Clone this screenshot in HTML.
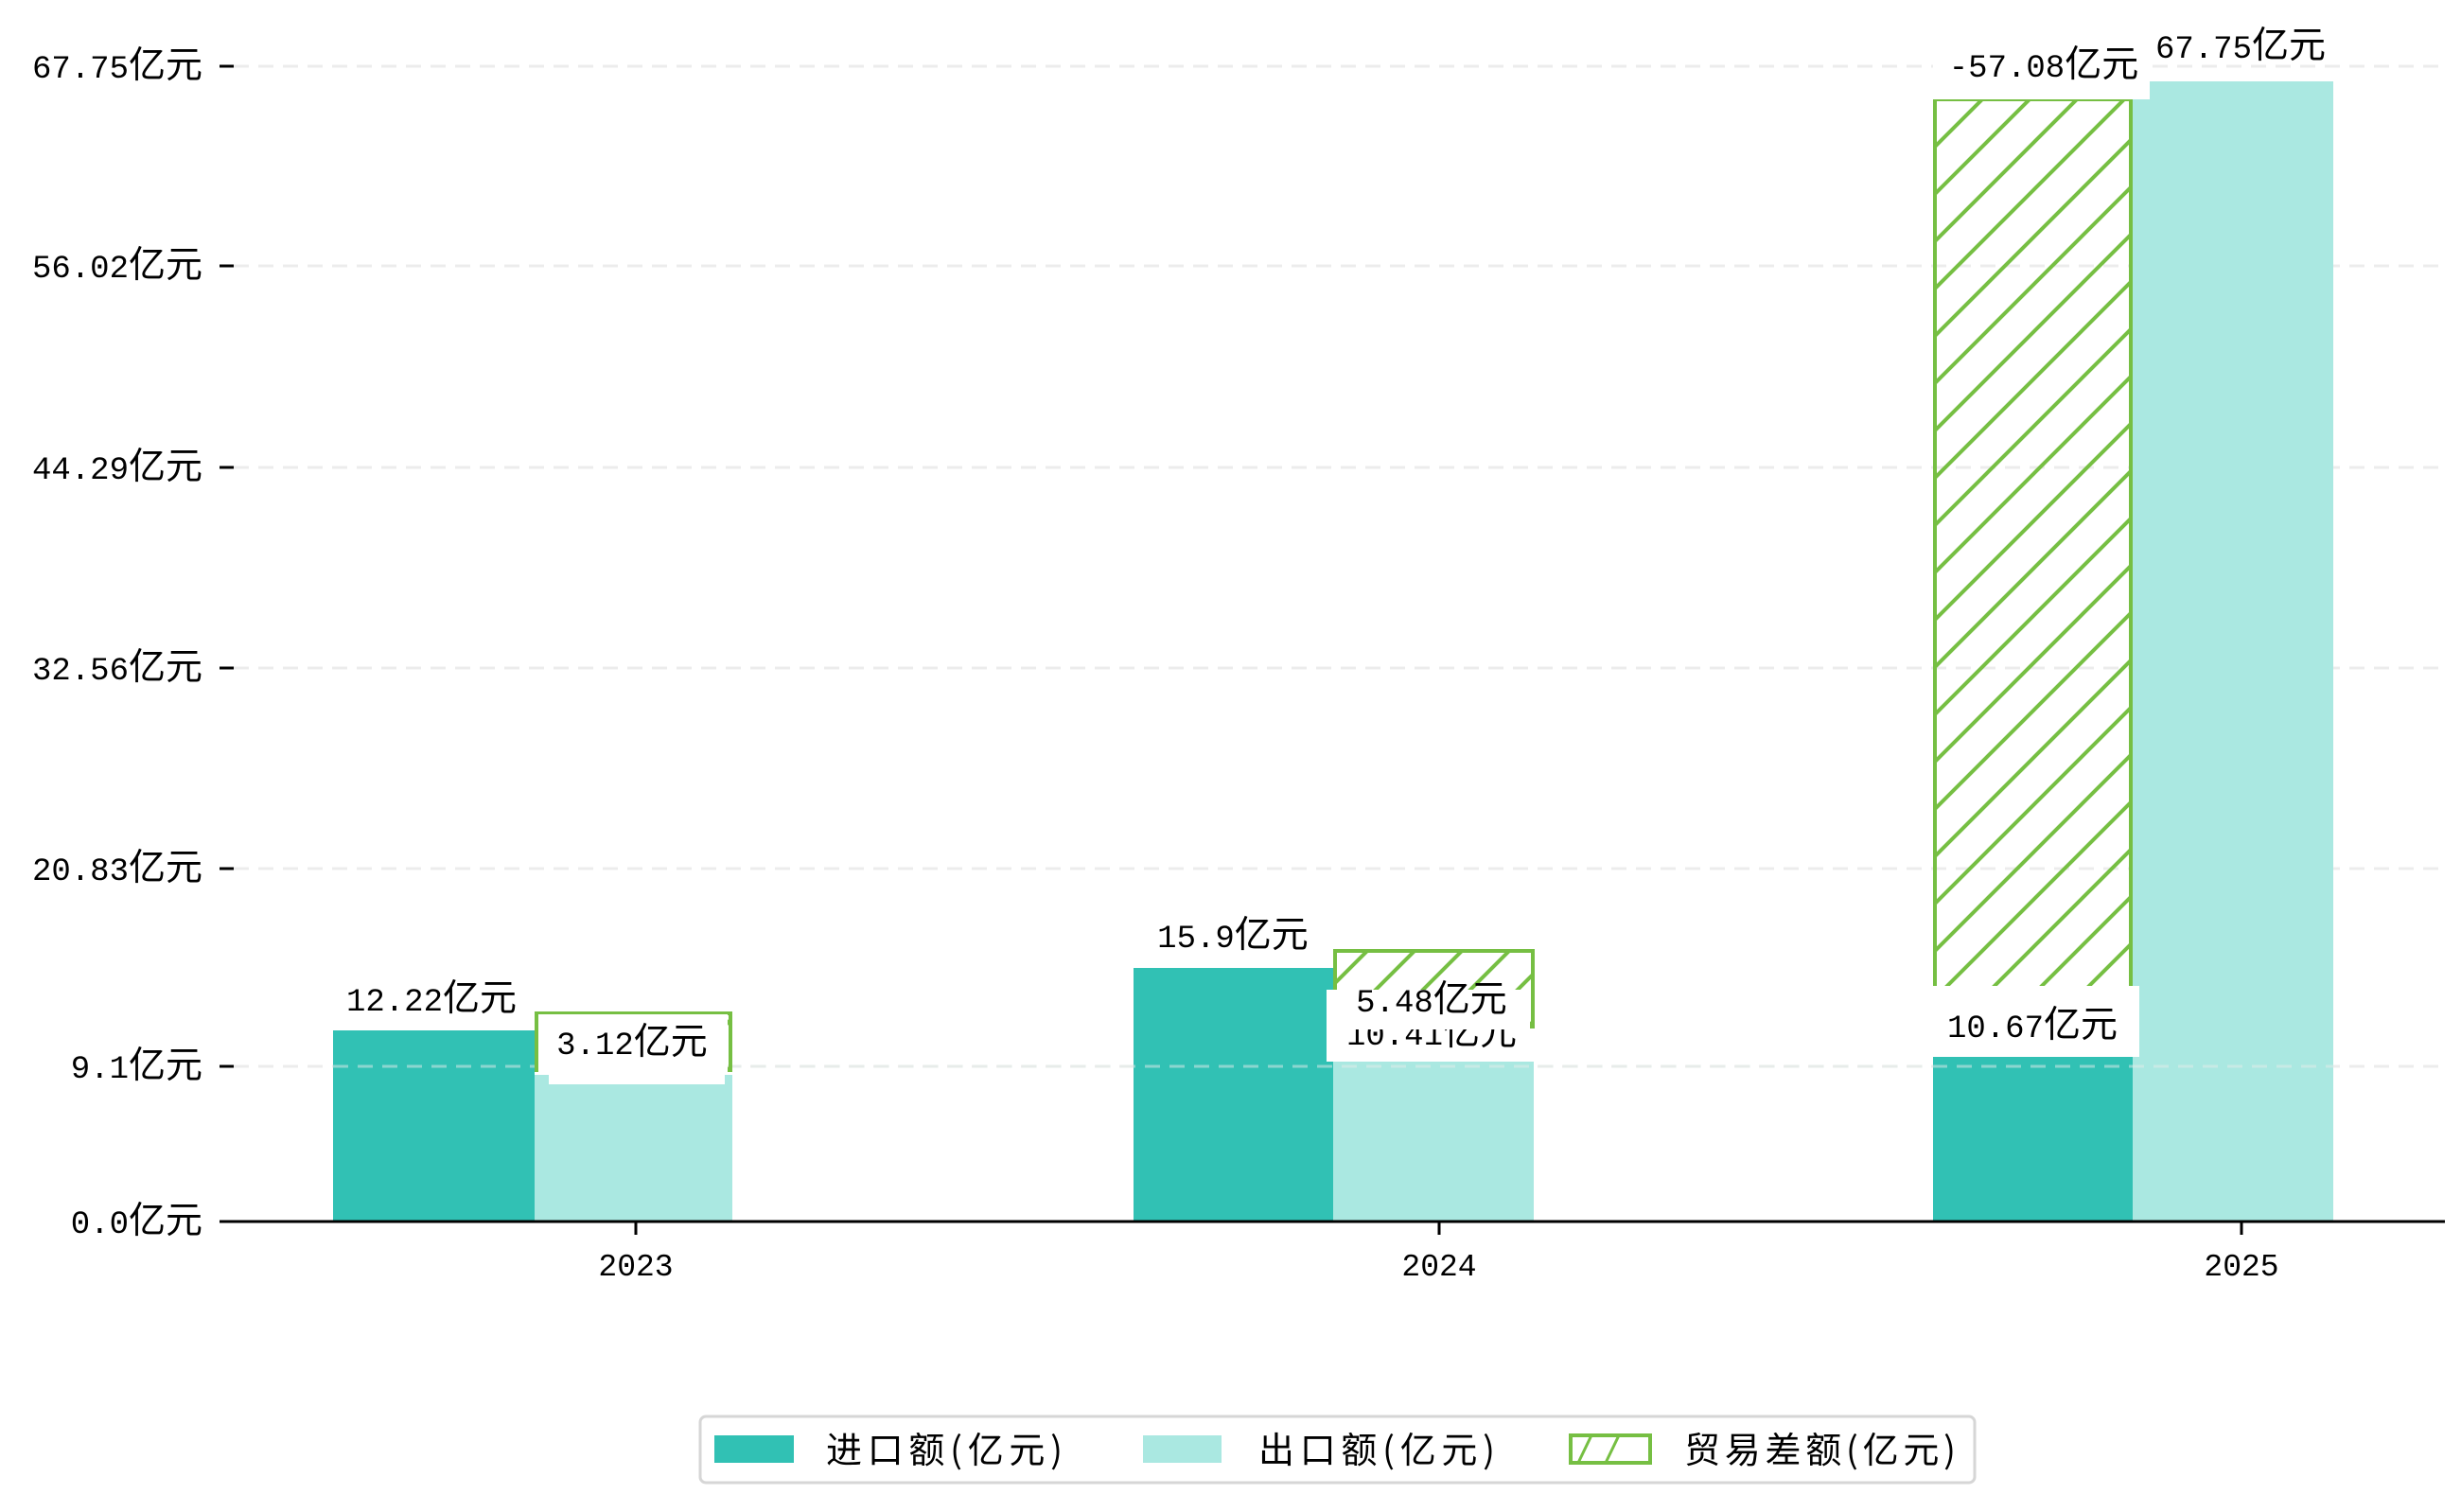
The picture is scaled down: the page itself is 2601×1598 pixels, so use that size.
<!DOCTYPE html>
<html><head><meta charset="utf-8"><style>
html,body{margin:0;padding:0;background:#fff}
svg{display:block}
text{font-family:"Liberation Mono","Noto Sans CJK SC",monospace;fill:#000}
.c{font-family:"Noto Sans CJK SC","WenQuanYi Zen Hei",sans-serif;font-size:39px}
.lg{font-family:"Noto Sans CJK SC","WenQuanYi Zen Hei",sans-serif}
</style></head><body>
<svg width="2601" height="1598" viewBox="0 0 2601 1598" xmlns="http://www.w3.org/2000/svg">
<defs>
<pattern id="h" patternUnits="userSpaceOnUse" width="50" height="50">
<path d="M-10,60 L60,-10 M-60,60 L10,-10 M40,60 L110,-10" stroke="#76bf43" stroke-width="4"/>
</pattern>
</defs>
<rect width="2601" height="1598" fill="#fff"/>
<!-- grid -->
<g stroke="#ececec" stroke-width="3" stroke-dasharray="16,10">
<line x1="247" y1="70" x2="2584" y2="70"/>
<line x1="247" y1="281" x2="2584" y2="281"/>
<line x1="247" y1="494" x2="2584" y2="494"/>
<line x1="247" y1="706" x2="2584" y2="706"/>
<line x1="247" y1="918" x2="2584" y2="918"/>
<line x1="247" y1="1127" x2="2584" y2="1127"/>
</g>
<!-- bars -->
<rect x="352" y="1089" width="213" height="202" fill="#31c1b4"/>
<rect x="565" y="1136" width="209" height="155" fill="#aae8e1"/>
<rect x="1198" y="1023" width="211" height="268" fill="#31c1b4"/>
<rect x="1409" y="1122" width="212" height="169" fill="#aae8e1"/>
<rect x="2043" y="1117" width="211" height="174" fill="#31c1b4"/>
<rect x="2254" y="86" width="212" height="1205" fill="#aae8e1"/>
<g stroke="#e4ecea" stroke-width="3" stroke-dasharray="16,10" opacity="0.5">
<line x1="352" y1="1127" x2="2466" y2="1127"/>
</g>
<!-- hatched -->
<rect x="567" y="1071" width="205" height="60" fill="url(#h)" stroke="#76bf43" stroke-width="4"/>
<rect x="1411" y="1005" width="209" height="80" fill="url(#h)" stroke="#76bf43" stroke-width="4"/>
<rect x="2045" y="105" width="207" height="945" fill="url(#h)" stroke="#76bf43" stroke-width="4"/>
<!-- label boxes -->
<rect x="569" y="1072" width="200" height="64" fill="#fff"/>
<rect x="580" y="1130" width="186" height="16" fill="#fff"/>
<rect x="1202" y="975" width="206" height="48" fill="#fff"/>
<rect x="1402" y="1080" width="215" height="42" fill="#fff"/>
<text x="1513" y="1104" font-size="34" text-anchor="middle">10.41<tspan class="c">亿元</tspan></text>
<rect x="1402" y="1046" width="215" height="42" fill="#fff"/>
<rect x="2043" y="1042" width="218" height="75" fill="#fff"/>
<rect x="2043" y="45" width="229" height="60" fill="#fff"/>
<!-- value labels -->
<g font-size="34" text-anchor="middle">
<text x="456" y="1068">12.22<tspan class="c">亿元</tspan></text>
<text x="668" y="1114">3.12<tspan class="c">亿元</tspan></text>
<text x="1303" y="1001">15.9<tspan class="c">亿元</tspan></text>
<text x="1513" y="1069">5.48<tspan class="c">亿元</tspan></text>
<text x="2148" y="1096">10.67<tspan class="c">亿元</tspan></text>
<text x="2160" y="81">-57.08<tspan class="c">亿元</tspan></text>
<text x="2368" y="61">67.75<tspan class="c">亿元</tspan></text>
</g>
<!-- axes -->
<line x1="247" y1="1291" x2="2584" y2="1291" stroke="#000" stroke-width="3"/>
<g stroke="#000" stroke-width="3">
<line x1="232" y1="70" x2="247" y2="70"/><line x1="232" y1="281" x2="247" y2="281"/>
<line x1="232" y1="494" x2="247" y2="494"/><line x1="232" y1="706" x2="247" y2="706"/>
<line x1="232" y1="918" x2="247" y2="918"/><line x1="232" y1="1127" x2="247" y2="1127"/>
<line x1="232" y1="1291" x2="247" y2="1291"/>
<line x1="672" y1="1291" x2="672" y2="1305"/><line x1="1521" y1="1291" x2="1521" y2="1305"/><line x1="2369" y1="1291" x2="2369" y2="1305"/>
</g>
<g font-size="34" text-anchor="end">
<text x="214" y="82">67.75<tspan class="c">亿元</tspan></text>
<text x="214" y="293">56.02<tspan class="c">亿元</tspan></text>
<text x="214" y="506">44.29<tspan class="c">亿元</tspan></text>
<text x="214" y="718">32.56<tspan class="c">亿元</tspan></text>
<text x="214" y="930">20.83<tspan class="c">亿元</tspan></text>
<text x="214" y="1139">9.1<tspan class="c">亿元</tspan></text>
<text x="214" y="1303">0.0<tspan class="c">亿元</tspan></text>
</g>
<g font-size="33" text-anchor="middle">
<text x="672" y="1348">2023</text>
<text x="1521" y="1348">2024</text>
<text x="2369" y="1348">2025</text>
</g>
<!-- legend -->
<rect x="740" y="1497" width="1347" height="70" rx="6" fill="#fff" stroke="#d6d6d6" stroke-width="3"/>
<rect x="755" y="1517" width="84" height="29" fill="#31c1b4"/>
<rect x="1208" y="1517" width="83" height="29" fill="#aae8e1"/>
<rect x="1660" y="1517" width="84" height="29" fill="#fff" stroke="#76bf43" stroke-width="4"/>
<path d="M1668,1546 L1682,1517 M1697,1546 L1711,1517" stroke="#76bf43" stroke-width="3"/>
<g font-size="38" class="lg">
<text class="lg" x="873" y="1546" textLength="250">进口额(亿元)</text>
<text class="lg" x="1330" y="1546" textLength="250">出口额(亿元)</text>
<text class="lg" x="1780" y="1546" textLength="287">贸易差额(亿元)</text>
</g>
</svg>
</body></html>
